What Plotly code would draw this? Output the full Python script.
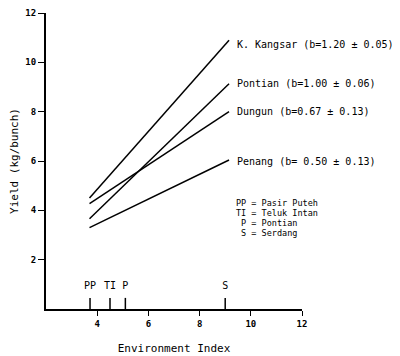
import plotly.graph_objects as go

# Data
env_range = [3.7, 9.15]
series_names = ["K. Kangsar", "Pontian", "Dungun", "Penang"]
series_labels = ["K. Kangsar (b=1.20 \u00b1 0.05)", "Pontian (b=1.00 \u00b1 0.06)",
                 "Dungun (b=0.67 \u00b1 0.13)", "Penang (b= 0.50 \u00b1 0.13)"]
series_start = [4.5, 3.66, 4.27, 3.3]
series_end = [10.9, 9.13, 8.0, 6.04]
label_y = [10.74, 9.13, 8.0, 6.0]

site_codes = ["PP", "TI", "P", "S"]
site_index = [3.72, 4.5, 5.1, 9.0]
site_names = ["Pasir Puteh", "Teluk Intan", "Pontian", "Serdang"]

x_ticks = [4, 6, 8, 10, 12]
y_ticks = [2, 4, 6, 8, 10, 12]

FONT = "DejaVu Sans Mono"

fig = go.Figure()
for name, s, e in zip(series_names, series_start, series_end):
    fig.add_trace(go.Scatter(x=env_range, y=[s, e], mode="lines", name=name,
                             line=dict(color="black", width=1.5), showlegend=False))

# site marks on x axis
mx, my = [], []
for xi in site_index:
    mx += [xi, xi, None]
    my += [0, 0.45, None]
fig.add_trace(go.Scatter(x=mx, y=my, mode="lines", line=dict(color="black", width=1.5),
                         showlegend=False, hoverinfo="skip"))
fig.add_trace(go.Scatter(x=site_index, y=[0.9] * len(site_index), mode="text",
                         text=site_codes, textfont=dict(family=FONT, size=10, color="black"),
                         showlegend=False, hoverinfo="skip"))

# series labels
for lab, ly in zip(series_labels, label_y):
    fig.add_annotation(x=9.4, y=ly, text=lab, showarrow=False, xanchor="left", yanchor="middle",
                       font=dict(family=FONT, size=10, color="black"))

# key
key_y = [4.3, 3.9, 3.5, 3.1]
for code, nm, ky in zip(site_codes, site_names, key_y):
    t = code.rjust(2, "\u00a0") + " = " + nm
    t = t.replace(" ", "\u00a0")
    fig.add_annotation(x=9.37, y=ky, text=t, showarrow=False, xanchor="left", yanchor="middle",
                       borderpad=0,
                       font=dict(family=FONT, size=8.5, color="black"))

fig.update_layout(
    width=392, height=348,
    margin=dict(l=38, r=98, t=5, b=47),
    paper_bgcolor="white", plot_bgcolor="white",
    font=dict(family=FONT, color="black"),
    xaxis=dict(range=[2, 12], tickvals=x_ticks, ticktext=[str(v) for v in x_ticks],
               automargin=False,
               showgrid=False, zeroline=False, showline=True, linecolor="black", linewidth=1.5,
               ticks="outside", ticklen=5, tickcolor="black",
               tickfont=dict(family=FONT, size=9, weight="bold"),
               title=dict(text="Environment Index", font=dict(family=FONT, size=11), standoff=17)),
    yaxis=dict(range=[0, 12], tickvals=y_ticks, ticktext=[str(v) for v in y_ticks],
               automargin=False,
               showgrid=False, zeroline=False, showline=True, linecolor="black", linewidth=2,
               ticks="outside", ticklen=6, tickcolor="black",
               tickfont=dict(family=FONT, size=9, weight="bold"),
               title=dict(text="Yield (kg/bunch)", font=dict(family=FONT, size=11), standoff=13)),
)

fig.write_html("out.html")
